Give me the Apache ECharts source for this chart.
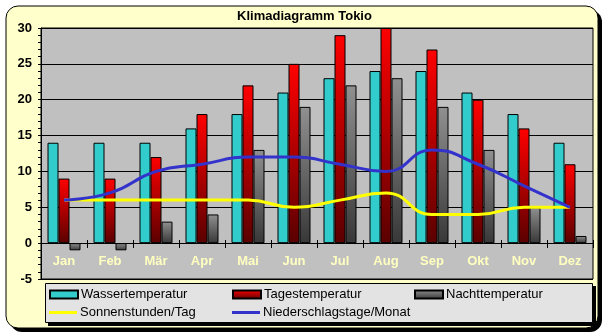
<!DOCTYPE html>
<html>
<head>
<meta charset="utf-8">
<script src="https://cdn.jsdelivr.net/npm/echarts@6/dist/echarts.min.js"></script>
<style>html,body{margin:0;padding:0;background:#fff}#c{width:609px;height:336px}</style>
</head>
<body>
<div id="c"></div>
<script>
const months = ['Jan','Feb','Mär','Apr','Mai','Jun','Jul','Aug','Sep','Okt','Nov','Dez'];
const wasser = [14,14,14,16,18,21,23,24,24,21,18,14];
const tages = [9,9,12,18,22,25,29,30,27,20,16,11];
const nacht = [-1,-1,3,4,13,19,22,23,19,13,5,1];
const sonne = [6,6,6,6,6,5,6,7,4,4,5,5];
const regen = [6,7,10,11,12,12,11,10,13,11,8,5];
const yTicks = [-5,0,5,10,15,20,25,30];

const FONT = 'Liberation Sans, Arial, sans-serif';
const chart = echarts.init(document.getElementById('c'), null, {renderer:'canvas'});
const redGrad = new echarts.graphic.LinearGradient(0,0,0,1,[{offset:0,color:'#FF0000'},{offset:1,color:'#5A0000'}]);
const grayGrad = new echarts.graphic.LinearGradient(0,0,0,1,[{offset:0,color:'#909090'},{offset:1,color:'#383838'}]);

function legendAt(name, left, top, h){
  return {data:[{name:name, icon:'rect'}], left:left, top:top, padding:0, itemWidth:28, itemHeight:h,
    textStyle:{fontFamily:FONT, fontSize:13, color:'#000', padding:[0,0,0,-2]}};
}

chart.setOption({
  animation:false,
  backgroundColor:'#ffffff',
  title:{text:'Klimadiagramm Tokio', left:'center', top:10, padding:0,
    textStyle:{fontFamily:FONT, fontSize:13, fontWeight:'bold', color:'#000'}},
  graphic:[
    {type:'rect', z:-100, shape:{x:10,y:10,width:592,height:322,r:12}, style:{fill:'#000'}},
    {type:'rect', z:-99, shape:{x:6,y:6,width:592,height:322,r:12}, style:{fill:'#FFFFCC',stroke:'#000',lineWidth:1}},
    {type:'rect', z:-98, shape:{x:48,y:286,width:548,height:40}, style:{fill:'#000'}},
    {type:'rect', z:-97, shape:{x:45.5,y:283.5,width:547,height:39}, style:{fill:'#E3E3E3',stroke:'#000',lineWidth:1}}
  ],
  legend:[
    legendAt('Wassertemperatur',49,288,8),
    legendAt('Tagestemperatur',232,288,8),
    legendAt('Nachttemperatur',414,288,8),
    legendAt('Sonnenstunden/Tag',49,306,3),
    legendAt('Niederschlagstage/Monat',232,306,3)
  ],
  grid:{left:41, right:16, top:28, bottom:57, show:true, backgroundColor:'#C0C0C0', borderColor:'#000', borderWidth:1},
  xAxis:[
    {type:'category', data:months, position:'bottom', offset:-36,
      axisLine:{onZero:false, lineStyle:{color:'#000',width:1}},
      axisTick:{show:true, length:5, lineStyle:{color:'#000'}},
      axisLabel:{color:'#FFFFC0', fontFamily:FONT, fontSize:13, fontWeight:'bold', margin:12},
      splitLine:{show:false}},
    {type:'category', data:months, position:'top', offset:-215,
      axisLine:{onZero:false, lineStyle:{color:'#000',width:1}},
      axisTick:{show:true, length:3, lineStyle:{color:'#000'}},
      axisLabel:{show:false}, splitLine:{show:false}}
  ],
  yAxis:{type:'value', min:yTicks[0], max:yTicks[yTicks.length-1], interval:5,
    axisLine:{show:true, lineStyle:{color:'#000'}},
    axisTick:{show:true, length:3, lineStyle:{color:'#000'}},
    minorTick:{show:true, splitNumber:5, length:3, lineStyle:{color:'#000'}},
    axisLabel:{color:'#000', fontFamily:FONT, fontSize:13, fontWeight:'bold', margin:9},
    splitLine:{show:true, lineStyle:{color:'#000', width:1}}},
  series:[
    {name:'Wassertemperatur', type:'bar', data:wasser, barWidth:11, barGap:'0%',
      itemStyle:{color:'#33CCCC', borderColor:'#000', borderWidth:1}},
    {name:'Tagestemperatur', type:'bar', data:tages, barWidth:11, barGap:'0%',
      itemStyle:{color:redGrad, borderColor:'#000', borderWidth:1}},
    {name:'Nachttemperatur', type:'bar', data:nacht, barWidth:11, barGap:'0%',
      itemStyle:{color:grayGrad, borderColor:'#000', borderWidth:1}},
    {name:'Sonnenstunden/Tag', type:'line', data:sonne, smooth:0.5, symbol:'none', z:5,
      lineStyle:{color:'#FFFF00', width:3}, itemStyle:{color:'#FFFF00'}},
    {name:'Niederschlagstage/Monat', type:'line', data:regen, smooth:0.5, symbol:'none', z:6,
      lineStyle:{color:'#3333CC', width:3}, itemStyle:{color:'#3333CC'}}
  ]
});
</script>
</body>
</html>
